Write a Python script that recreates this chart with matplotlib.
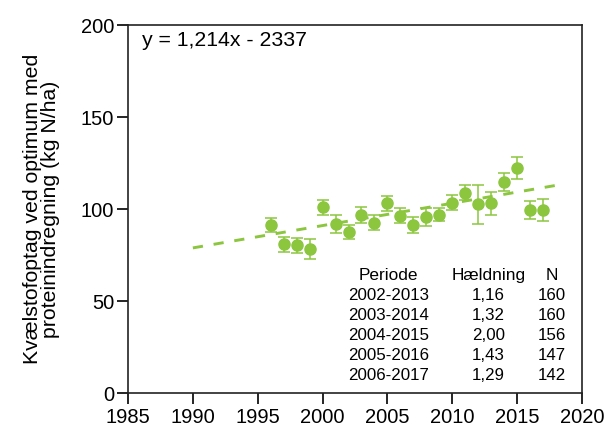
import matplotlib
matplotlib.use("Agg")
import matplotlib.pyplot as plt
import numpy as np

plt.rcParams['font.family'] = ['Liberation Sans', 'DejaVu Sans']

years = [1996, 1997, 1998, 1999, 2000, 2001, 2002, 2003, 2004, 2005, 2006,
         2007, 2008, 2009, 2010, 2011, 2012, 2013, 2014, 2015, 2016, 2017]
values = [91.3, 80.8, 80.3, 78.1, 100.9, 91.8, 87.5, 96.7, 92.6, 103.1, 96.4,
          91.3, 95.5, 96.9, 103.4, 108.9, 102.7, 103.1, 114.8, 122.1, 99.5, 99.5]
errors = [4, 4, 4, 5.5, 4, 5, 4, 4.5, 4, 4, 4,
          4.5, 5, 3.5, 4, 4, 10.6, 6.3, 5, 5.9, 4.7, 6]

slope = 1.214
intercept = -2337
trend_x = [1990, 2018]

periods = ["2002-2013", "2003-2014", "2004-2015", "2005-2016", "2006-2017"]
slopes = ["1,16", "1,32", "2,00", "1,43", "1,29"]
ns = ["160", "160", "156", "147", "142"]
headers = ["Periode", "Hældning", "N"]

green = "#8cc63f"

fig = plt.figure(figsize=(6.05, 4.29), dpi=100)
ax = fig.add_axes([0.2116, 0.0839, 0.7504, 0.8578])

tx = np.array(trend_x, dtype=float)
ax.plot(tx, slope * tx + intercept, color=green, lw=2.1, dashes=(3.5, 3.7), zorder=2)

ax.errorbar(years, values, yerr=errors, fmt='o', color=green, ms=8,
            ecolor=green, elinewidth=1.1, capsize=4.2, capthick=1.1, zorder=3)

ax.set_xlim(1985, 2020)
ax.set_ylim(0, 200)
ax.set_xticks(range(1985, 2021, 5))
ax.set_yticks(range(0, 201, 50))
ax.tick_params(axis='both', direction='out', length=8, width=1.2, labelsize=14.5,
               colors='black', pad=3)
ax.tick_params(axis='y', pad=2)
for s in ax.spines.values():
    s.set_linewidth(1.2)
    s.set_color('#222222')

ax.set_ylabel("Kvælstofoptag ved optimum med\nproteinindregning (kg N/ha)",
              fontsize=15.3, labelpad=15, linespacing=0.95)

ax.text(1986.1, 191.5, "y = 1,214x - 2337", fontsize=15.3, va='center', ha='left')

col_x = [2005.1, 2012.8, 2017.7]
row_y0 = 64.1
dy = 10.95
for cx, h in zip(col_x, headers):
    ax.text(cx, row_y0, h, fontsize=12.4, ha='center', va='center')
for i in range(len(periods)):
    y = row_y0 - dy * (i + 1)
    ax.text(col_x[0], y, periods[i], fontsize=12.2, ha='center', va='center')
    ax.text(col_x[1], y, slopes[i], fontsize=12.2, ha='center', va='center')
    ax.text(col_x[2], y, ns[i], fontsize=12.2, ha='center', va='center')

fig.savefig("out.png", dpi=100)
